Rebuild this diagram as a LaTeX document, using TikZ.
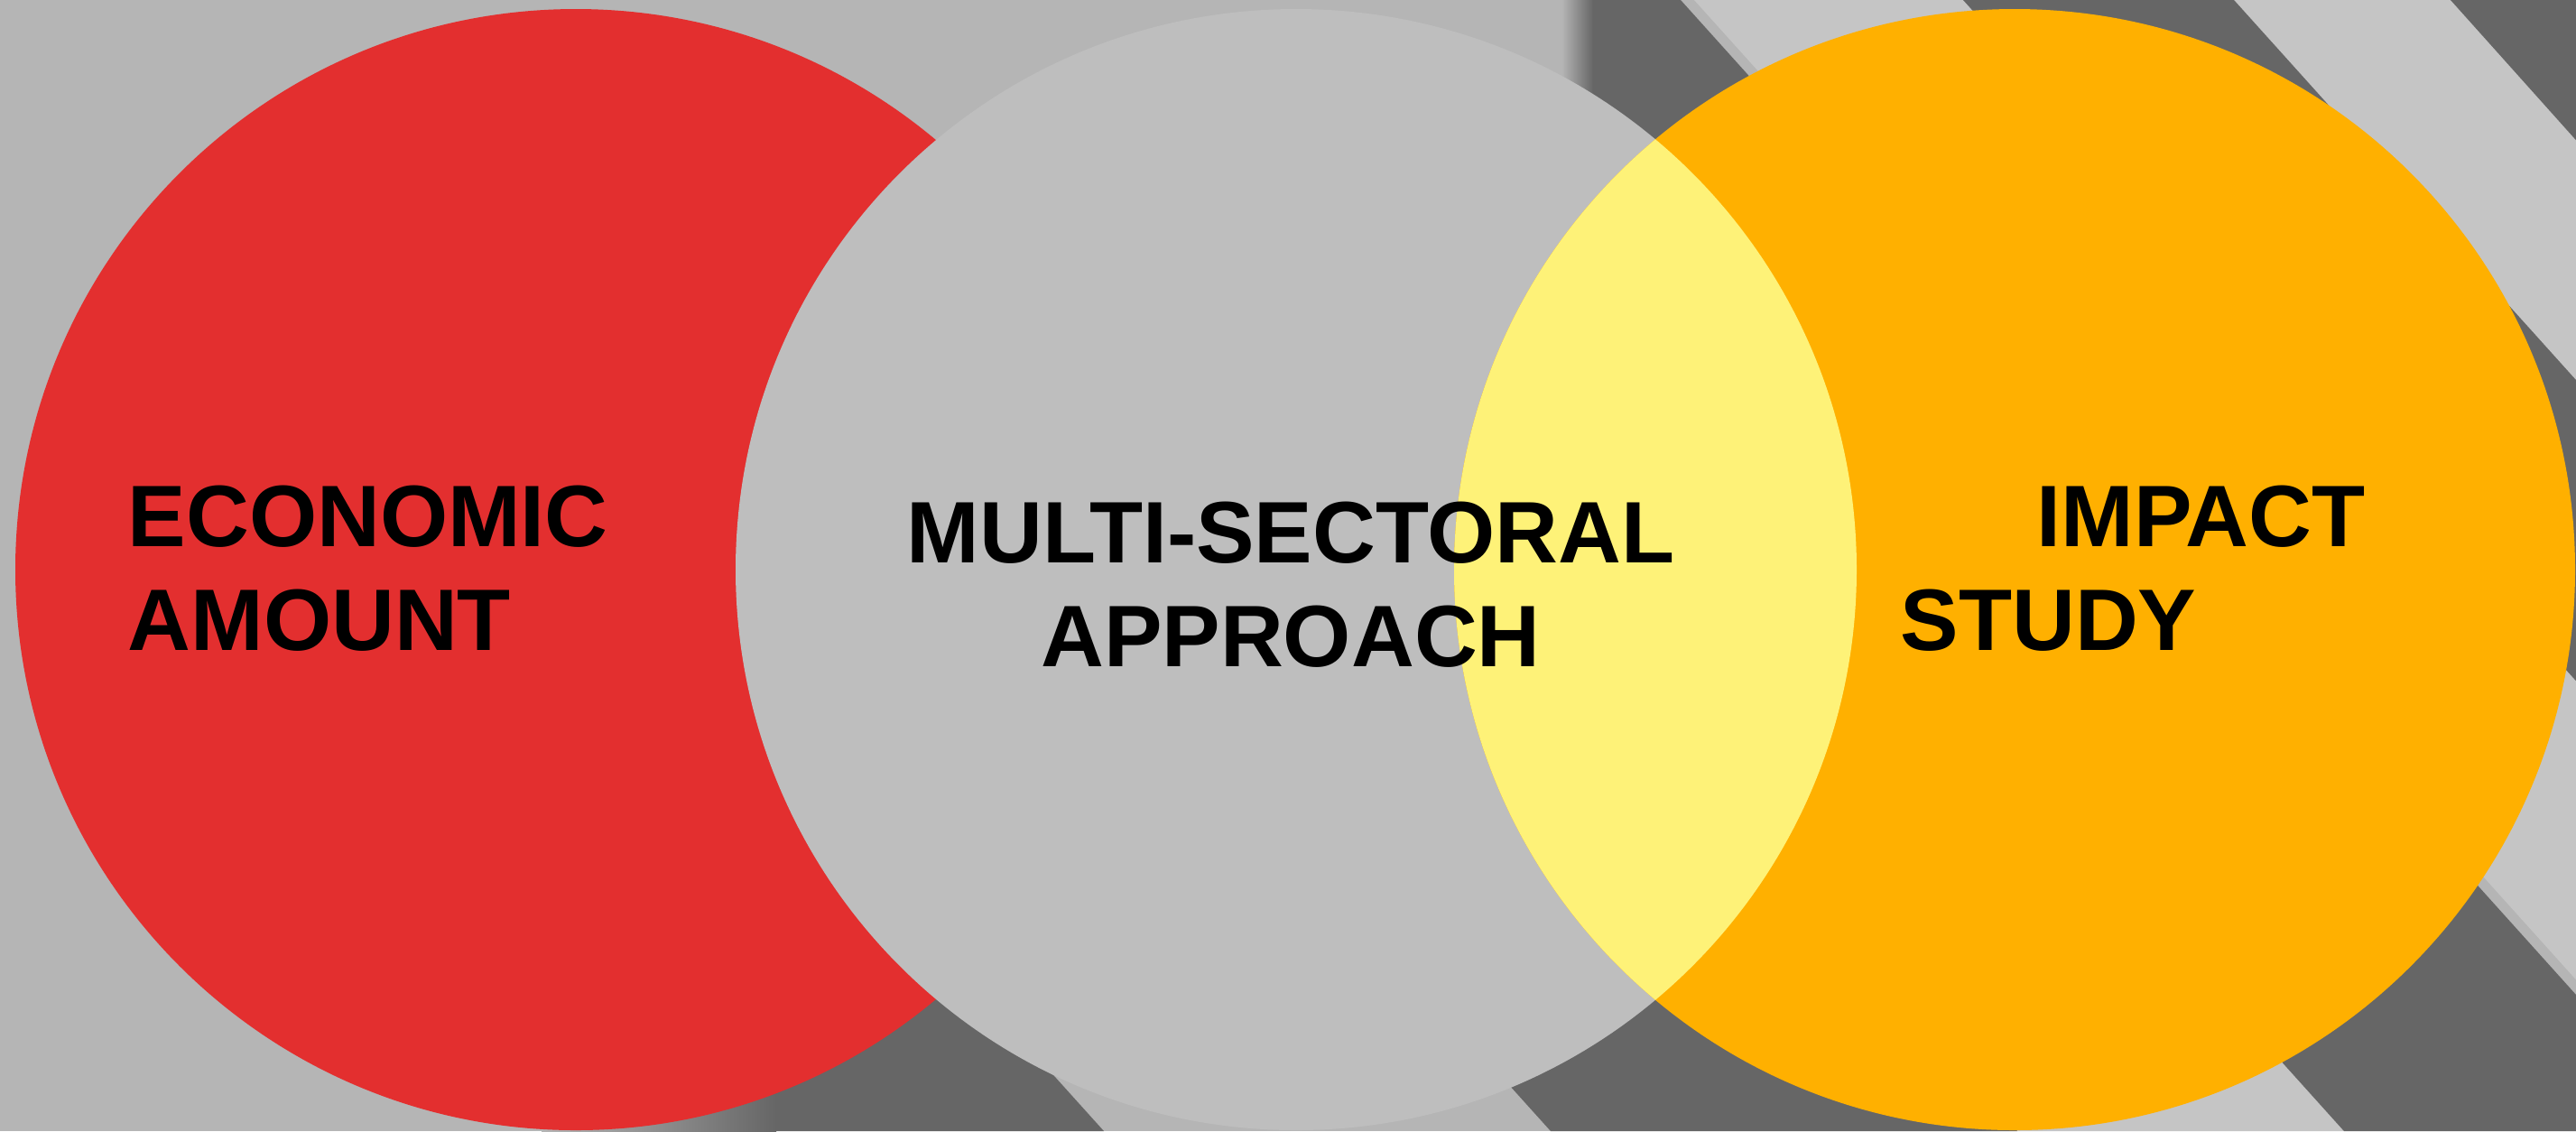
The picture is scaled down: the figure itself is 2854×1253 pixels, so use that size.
\documentclass[tikz,border=0pt]{standalone}
\usepackage{fontspec}
\setmainfont{Liberation Sans}
\usetikzlibrary{positioning}

\definecolor{bglight}{HTML}{B5B5B5}
\definecolor{bgpale}{HTML}{C5C5C5}
\definecolor{banddark}{HTML}{666666}
\definecolor{ecored}{HTML}{E32F2F}
\definecolor{multigray}{HTML}{BEBEBE}
\definecolor{impactorange}{HTML}{FFB000}
\definecolor{lensyellow}{HTML}{FEF278}

\begin{document}
\begin{tikzpicture}[x=0.01cm, y=-0.01cm,
    word/.style={font=\fontsize{27.5}{32.7}\selectfont\bfseries, inner sep=0pt, align=left},
    band/.style={fill=banddark}
]
\useasboundingbox (0,0) rectangle (2854,1253);

% background with slanted stripes
\begin{scope}
\clip (0,0) rectangle (2854,1253);
\fill[bglight] (0,0) rectangle (2854,1253);
\fill[bgpale] (1877,0) -- (2175,0) -- (3303,1253) -- (3005,1253) -- cycle;
\fill[bgpale] (2475,0) -- (2715,0) -- (3843,1253) -- (3603,1253) -- cycle;
\fill[bgpale] (1917,900) -- (2279,900) -- (2597,1253) -- (2235,1253) -- cycle;
\fill[band] (1753,0) -- (1862,0) -- (2990,1253) -- (2597,1253) -- (1753,315) -- cycle;
\shade[left color=bglight, right color=banddark] (1730,0) rectangle (1765,320);
\fill[band] (2175,0) -- (2475,0) -- (3603,1253) -- (3303,1253) -- cycle;
\fill[band] (2715,0) -- (3100,0) -- (3100,430) -- cycle;
\fill[band] (1400,900) -- (1917,900) -- (2235,1253) -- (1718,1253) -- cycle;
\fill[band] (800,1000) -- (995,1000) -- (1223,1253) -- (800,1253) -- cycle;
\shade[left color=bglight, right color=banddark] (600,1000) rectangle (860,1253);
\end{scope}

% the three sets
\coordinate (cEco) at (638,631);
\coordinate (cMul) at (1436,631);
\coordinate (cImp) at (2232,631);

\fill[ecored] (cEco) circle[radius=621];
\fill[multigray] (cMul) circle[radius=621];
\fill[impactorange] (cImp) circle[radius=621];
\begin{scope}
\clip (cMul) circle[radius=621];
\fill[lensyellow] (cImp) circle[radius=621];
\end{scope}

\node[word, anchor=west] (eco) at (141,630) {ECONOMIC\\AMOUNT};
\node[word, align=center] (mul) at (1430,648) {MULTI-SECTORAL\\APPROACH};
\node[word, anchor=west] (imp) at (2105,630) {\hspace*{1.51cm}IMPACT\\STUDY};
\end{tikzpicture}
\end{document}
